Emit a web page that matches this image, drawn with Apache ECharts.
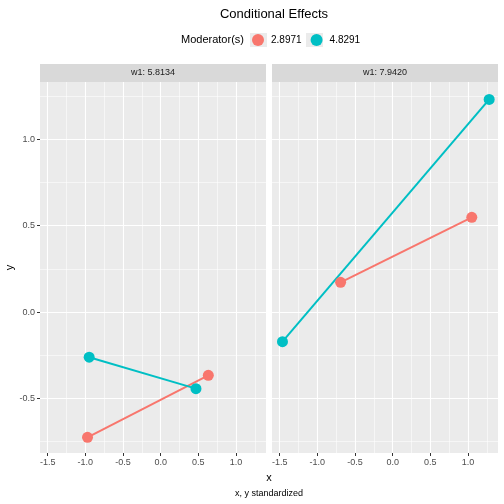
<!DOCTYPE html>
<html>
<head>
<meta charset="utf-8">
<script src="https://cdn.jsdelivr.net/npm/echarts@6/dist/echarts.min.js"></script>
<style>
  html, body { margin: 0; padding: 0; background: #fff; }
  #chart { width: 504px; height: 504px; }
</style>
</head>
<body>
<div id="chart"></div>
<script>
// facets and groups
var facetNames = ["w1: 5.8134", "w1: 7.9420"];
var groupNames = ["2.8971", "4.8291"];
var groupColors = ["#F8766D", "#00BFC4"];

// [x, y] end points per facet, per moderator level
var lowMod = [
  [[-0.971, -0.726], [0.633, -0.367]],
  [[-0.691, 0.172], [1.051, 0.549]]
];
var highMod = [
  [[-0.949, -0.262], [0.469, -0.444]],
  [[-1.463, -0.172], [1.282, 1.232]]
];

var xTicks = [-1.5, -1.0, -0.5, 0.0, 0.5, 1.0];
var xMinor = [-1.25, -0.75, -0.25, 0.25, 0.75, 1.25];
var yTicks = [-0.5, 0.0, 0.5, 1.0];
var yMinor = [-0.75, -0.25, 0.25, 0.75, 1.25];
var xRange = [-1.602, 1.399];
var yRange = [-0.817, 1.333];

var font = "Liberation Sans, Arial, sans-serif";
var chart = echarts.init(document.getElementById("chart"));

var panelLeft = [40, 272];
var panelW = 226;
var panelTop = 82;
var panelH = 371;

var grids = [], xAxes = [], yAxes = [], series = [], graphics = [];

facetNames.forEach(function (name, i) {
  grids.push({
    left: panelLeft[i], top: panelTop, width: panelW, height: panelH,
    show: true, backgroundColor: "#EBEBEB", borderWidth: 0
  });
  // major x
  xAxes.push({
    type: "value", gridIndex: i, min: xRange[0], max: xRange[1], position: "bottom",
    axisLine: { show: false, onZero: false },
    axisTick: { show: true, customValues: xTicks, length: 3, lineStyle: { color: "#333333", width: 1 } },
    axisLabel: {
      customValues: xTicks, color: "#4D4D4D", fontSize: 9, fontFamily: font, margin: 5,
      formatter: function (v) { return v.toFixed(1); }
    },
    splitLine: { show: true, lineStyle: { color: "#FFFFFF", width: 1.1 } }
  });
  // minor x
  xAxes.push({
    type: "value", gridIndex: i, min: xRange[0], max: xRange[1], position: "bottom",
    axisLine: { show: false, onZero: false },
    axisTick: { show: false, customValues: xMinor },
    axisLabel: { show: false, customValues: xMinor },
    splitLine: { show: true, lineStyle: { color: "#FFFFFF", width: 0.55 } }
  });
  yAxes.push({
    type: "value", gridIndex: i, min: yRange[0], max: yRange[1], position: "left",
    name: i === 0 ? "y" : "", nameLocation: "middle", nameGap: 23, nameRotate: 90,
    nameTextStyle: { color: "#000", fontSize: 11, fontFamily: font },
    axisLine: { show: false, onZero: false },
    axisTick: { show: i === 0, customValues: yTicks, length: 3, lineStyle: { color: "#333333", width: 1 } },
    axisLabel: {
      show: i === 0, customValues: yTicks, color: "#4D4D4D", fontSize: 9, fontFamily: font, margin: 5,
      formatter: function (v) { return v.toFixed(1); }
    },
    splitLine: { show: true, lineStyle: { color: "#FFFFFF", width: 1.1 } }
  });
  yAxes.push({
    type: "value", gridIndex: i, min: yRange[0], max: yRange[1], position: "left",
    axisLine: { show: false, onZero: false },
    axisTick: { show: false, customValues: yMinor },
    axisLabel: { show: false, customValues: yMinor },
    splitLine: { show: true, lineStyle: { color: "#FFFFFF", width: 0.55 } }
  });

  [lowMod[i], highMod[i]].forEach(function (pts, g) {
    series.push({
      name: groupNames[g], type: "line",
      xAxisIndex: i * 2, yAxisIndex: i * 2,
      data: pts, symbol: "circle", symbolSize: 11, showSymbol: true,
      itemStyle: { color: groupColors[g] },
      lineStyle: { width: 2, color: groupColors[g] },
      emphasis: { disabled: true }, animation: false, z: 3
    });
  });

  // strip
  graphics.push({
    type: "rect", shape: { x: panelLeft[i], y: 64, width: panelW, height: 18 },
    style: { fill: "#D9D9D9" }, silent: true
  });
  graphics.push({
    type: "text", x: panelLeft[i] + panelW / 2, y: 73,
    style: { text: name, fill: "#1A1A1A", font: "9px " + font, textAlign: "center", textVerticalAlign: "middle" },
    silent: true
  });
});

// legend key backgrounds
[250, 306].forEach(function (x) {
  graphics.push({
    type: "rect", shape: { x: x, y: 33, width: 17, height: 14 },
    style: { fill: "#EBEBEB" }, z: -1, silent: true
  });
});
graphics.push({
  type: "text", x: 181, y: 40,
  style: { text: "Moderator(s)", fill: "#000", font: "11px " + font, textVerticalAlign: "middle" }
});
graphics.push({
  type: "text", x: 269, y: 478,
  style: { text: "x", fill: "#000", font: "11px " + font, textAlign: "center", textVerticalAlign: "middle" }
});
graphics.push({
  type: "text", x: 269, y: 494,
  style: { text: "x, y standardized", fill: "#000", font: "9px " + font, textAlign: "center", textVerticalAlign: "middle" }
});

chart.setOption({
  animation: false,
  backgroundColor: "#FFFFFF",
  title: {
    text: "Conditional Effects", left: 269, top: 3, textAlign: "center",
    textStyle: { fontSize: 13, fontWeight: "normal", color: "#000", fontFamily: font }
  },
  legend: {
    data: groupNames, left: 247, top: 29, orient: "horizontal",
    icon: "circle", itemWidth: 12, itemHeight: 12, itemGap: 9,
    textStyle: { fontSize: 10, color: "#000", fontFamily: font, padding: [0, 0, 0, 2] },
    selectedMode: false
  },
  grid: grids,
  xAxis: xAxes,
  yAxis: yAxes,
  graphic: graphics,
  series: series
});
</script>
</body>
</html>
